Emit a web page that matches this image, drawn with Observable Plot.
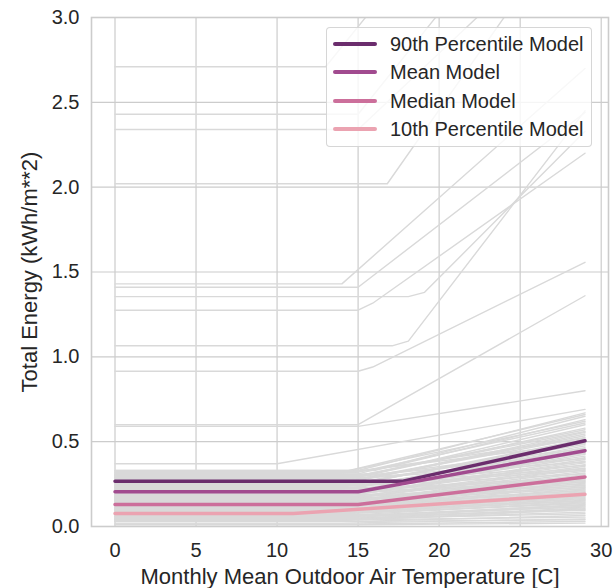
<!DOCTYPE html>
<html>
<head>
<meta charset="utf-8">
<script src="https://cdn.jsdelivr.net/npm/d3@7"></script>
<script src="https://cdn.jsdelivr.net/npm/@observablehq/plot@0.6"></script>
<style>
  html, body { margin: 0; padding: 0; background: white; }
  #wrap { position: relative; width: 615px; height: 588px; font-family: "Liberation Sans", Arial, sans-serif; }
  #legend { position: absolute; left: 326px; top: 27px; width: 266px; height: 120px; box-sizing: border-box;
            border: 1px solid rgba(204,204,204,0.8); border-radius: 4px; background: rgba(255,255,255,0.8); }
  .row { position: absolute; left: 0; height: 28px; display: flex; align-items: center; }
  .sw { position: absolute; left: 6px; width: 44px; height: 4px; border-radius: 2px; }
  .lab { position: absolute; left: 63px; white-space: nowrap; font-size: 20px; color: #262626; line-height: 28px; }
</style>
</head>
<body>
<div id="wrap"><div id="legend"></div></div>
<script>
// ---- data ----
const tempRange = [0, 29];
const xTicks = [0, 5, 10, 15, 20, 25, 30];
const yTicks = [0, 0.5, 1.0, 1.5, 2.0, 2.5, 3.0];

const modelNames  = ["90th Percentile Model", "Mean Model", "Median Model", "10th Percentile Model"];
const modelColors = ["#6b2d6d", "#a14b8f", "#cc6f9b", "#eba3b1"];
const modelBase   = [0.266, 0.205, 0.13, 0.076];
const modelChange = [17.7, 15, 15, 11];
const modelEnd    = [0.505, 0.447, 0.292, 0.19];

// high-valued grey building models (polyline vertices: temperature, energy)
const outlierLines = [
  [[0, 2.71], [13, 2.71], [29, 4.6]],
  [[0, 2.43], [15, 2.43], [29, 4.1]],
  [[0, 2.34], [15, 2.34], [29, 3.6]],
  [[0, 2.02], [16.8, 2.02], [29, 3.68]],
  [[0, 1.43], [14, 1.43], [29, 2.7]],
  [[0, 1.41], [15, 1.41], [29, 2.44]],
  [[0, 1.355], [18.1, 1.355], [19.1, 1.38], [29, 2.33]],
  [[0, 1.275], [15, 1.275], [15.9, 1.316], [29, 2.2]],
  [[0, 1.065], [17.1, 1.065], [18.1, 1.093], [29, 2.45]],
  [[0, 0.915], [15, 0.915], [15.9, 0.94], [29, 1.557]],
  [[0, 0.60], [15, 0.60], [29, 1.36]],
  [[0, 0.59], [15, 0.59], [29, 0.80]]
];

// dense band of grey building models: [base load, change point, value at 29 C]
const bandModels = [
  [0.37, 10, 0.69], [0.33, 15, 0.67], [0.32, 14, 0.66], [0.31, 15, 0.65], [0.33, 16, 0.63],
  [0.30, 13, 0.62], [0.32, 15, 0.61], [0.29, 15, 0.60], [0.31, 16, 0.58], [0.30, 15, 0.57],
  [0.28, 14, 0.56], [0.29, 16, 0.555], [0.27, 15, 0.545], [0.28, 15, 0.535], [0.26, 14, 0.525],
  [0.27, 16, 0.515], [0.25, 15, 0.505], [0.26, 15, 0.495], [0.24, 14, 0.485], [0.25, 16, 0.475],
  [0.23, 15, 0.465], [0.24, 15, 0.455], [0.22, 14, 0.445], [0.23, 16, 0.435], [0.21, 15, 0.425],
  [0.22, 15, 0.415], [0.20, 14, 0.405], [0.21, 16, 0.395], [0.19, 15, 0.385], [0.20, 15, 0.375],
  [0.18, 14, 0.365], [0.19, 16, 0.355], [0.17, 15, 0.345], [0.18, 15, 0.335], [0.16, 14, 0.325],
  [0.17, 16, 0.315], [0.15, 15, 0.305], [0.16, 15, 0.295], [0.14, 14, 0.285], [0.15, 16, 0.275],
  [0.13, 15, 0.265], [0.14, 15, 0.255], [0.12, 14, 0.245], [0.13, 16, 0.235], [0.11, 15, 0.225],
  [0.12, 15, 0.215], [0.10, 14, 0.205], [0.11, 16, 0.195], [0.09, 15, 0.185], [0.10, 15, 0.175],
  [0.08, 14, 0.165], [0.09, 16, 0.155], [0.07, 15, 0.145], [0.08, 15, 0.135], [0.06, 14, 0.125],
  [0.07, 16, 0.115], [0.05, 15, 0.105], [0.06, 15, 0.095], [0.04, 14, 0.085], [0.05, 16, 0.075],
  [0.03, 15, 0.065], [0.04, 15, 0.055], [0.02, 14, 0.045], [0.03, 16, 0.04], [0.015, 15, 0.03],
  [0.01, 15, 0.02],
  [0.325, 15, 0.52], [0.315, 14, 0.49], [0.305, 16, 0.46], [0.295, 15, 0.43], [0.285, 15, 0.40],
  [0.275, 14, 0.38], [0.265, 16, 0.36], [0.255, 15, 0.34], [0.245, 15, 0.33], [0.235, 14, 0.31],
  [0.225, 16, 0.29], [0.215, 15, 0.28], [0.205, 15, 0.27], [0.195, 14, 0.26], [0.185, 16, 0.25],
  [0.175, 15, 0.24], [0.165, 15, 0.23], [0.155, 14, 0.22], [0.145, 16, 0.21], [0.135, 15, 0.20],
  [0.125, 15, 0.19], [0.115, 14, 0.18], [0.105, 16, 0.17], [0.095, 15, 0.16], [0.085, 15, 0.15],
  [0.075, 14, 0.14], [0.065, 16, 0.13], [0.055, 15, 0.12], [0.045, 15, 0.11], [0.035, 14, 0.10]
];

// ---- build rows ----
const greyRows = [];
outlierLines.forEach((pts, i) => pts.forEach(([x, y]) => greyRows.push({id: "o" + i, x, y})));
bandModels.forEach(([b, c, e], i) => {
  greyRows.push({id: "b" + i, x: tempRange[0], y: b}, {id: "b" + i, x: c, y: b}, {id: "b" + i, x: tempRange[1], y: e});
});
const modelRows = [];
modelNames.forEach((m, i) => {
  modelRows.push({model: m, x: tempRange[0], y: modelBase[i]},
                 {model: m, x: modelChange[i], y: modelBase[i]},
                 {model: m, x: tempRange[1], y: modelEnd[i]});
});

const chart = Plot.plot({
  width: 615, height: 588,
  marginLeft: 91, marginRight: 7, marginTop: 17, marginBottom: 62,
  style: {fontFamily: '"Liberation Sans", Arial, sans-serif', fontSize: "20px", color: "#262626", background: "white"},
  x: {domain: [-1.45, 30.45]},
  y: {domain: [0, 3]},
  color: {domain: modelNames, range: modelColors},
  marks: [
    Plot.gridX(xTicks, {stroke: "#cccccc", strokeOpacity: 1, strokeWidth: 1.2}),
    Plot.gridY(yTicks, {stroke: "#cccccc", strokeOpacity: 1, strokeWidth: 1.2}),
    Plot.line(greyRows, {x: "x", y: "y", z: "id", stroke: "#d9d9d9", strokeWidth: 1.4, clip: true}),
    Plot.line(modelRows, {x: "x", y: "y", z: "model", stroke: "model", strokeWidth: 3.5, strokeLinecap: "round", strokeLinejoin: "round", clip: true}),
    Plot.frame({stroke: "#cccccc", strokeWidth: 1.6}),
    Plot.axisX(xTicks, {tickSize: 0, tickPadding: 16, fontSize: 20,
      label: "Monthly Mean Outdoor Air Temperature [C]", labelAnchor: "center", labelArrow: "none", labelOffset: 57}),
    Plot.axisY(yTicks, {tickSize: 0, tickPadding: 12, fontSize: 20, tickFormat: d => d.toFixed(1),
      label: "Total Energy (kWh/m**2)", labelAnchor: "center", labelArrow: "none", labelOffset: 70})
  ]
});
const wrap = document.getElementById("wrap");
wrap.insertBefore(chart, wrap.firstChild);
chart.style.position = "absolute"; chart.style.left = "0"; chart.style.top = "0";

// bigger axis labels
chart.querySelectorAll('[aria-label="x-axis label"] text, [aria-label="y-axis label"] text').forEach(t => t.setAttribute("font-size", 22));

// legend
const legend = document.getElementById("legend");
modelNames.forEach((m, i) => {
  const row = document.createElement("div");
  row.className = "row";
  row.style.top = (2 + i * 28.3) + "px";
  const sw = document.createElement("div");
  sw.className = "sw"; sw.style.background = modelColors[i]; sw.style.top = "12px";
  const lab = document.createElement("div");
  lab.className = "lab"; lab.textContent = m; lab.style.top = "0px";
  row.appendChild(sw); row.appendChild(lab);
  legend.appendChild(row);
});
</script>
</body>
</html>
